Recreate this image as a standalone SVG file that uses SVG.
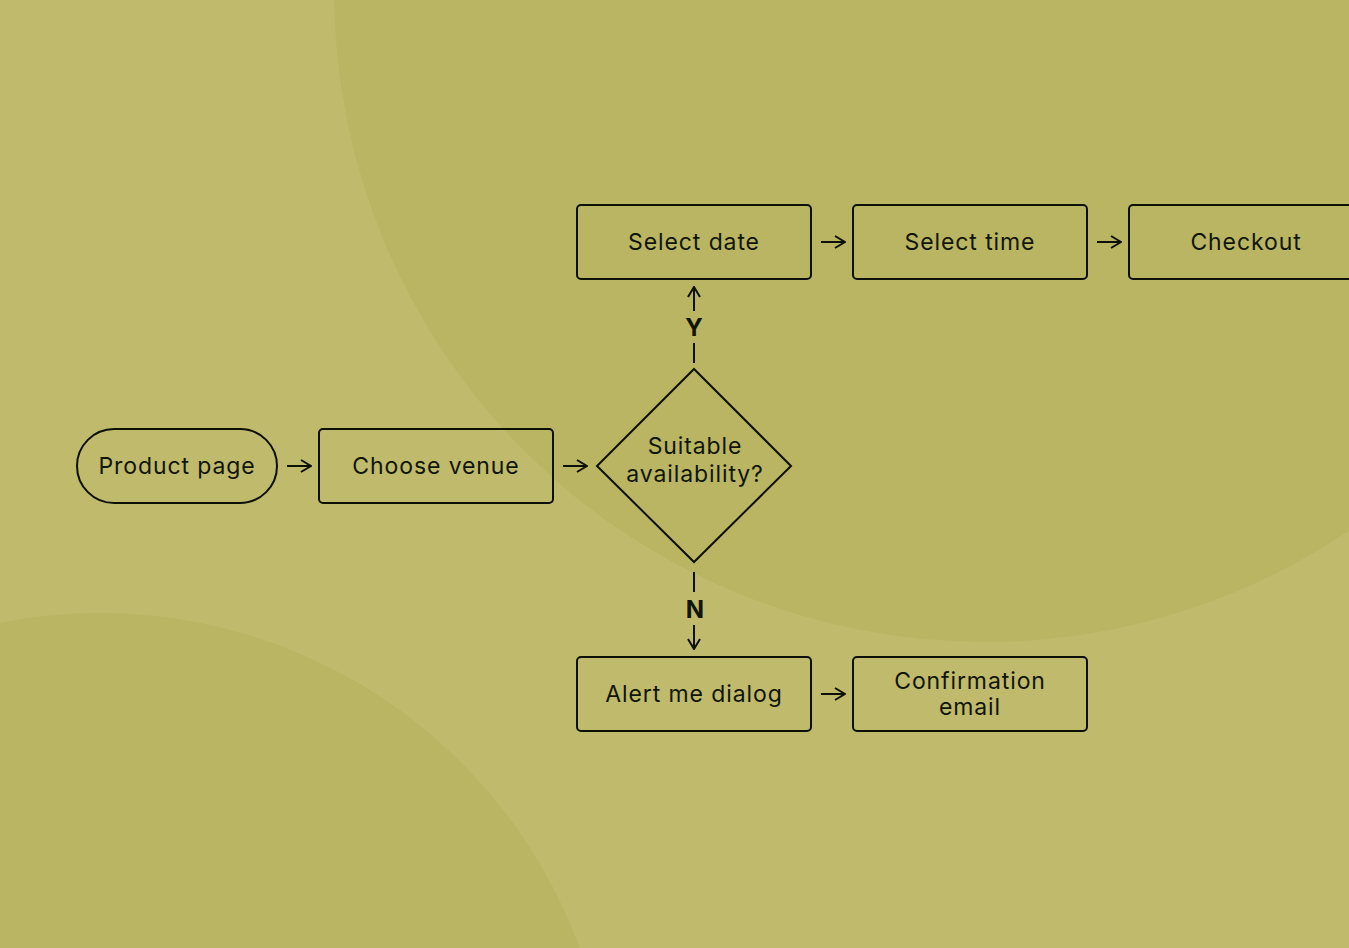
<svg xmlns="http://www.w3.org/2000/svg" width="1349" height="948" viewBox="0 0 1349 948">
<defs>
<style>
.box{fill:none;stroke:#0d1005;stroke-width:2}
.lbl{font-family:Inter,"Open Sans",sans-serif;font-size:23px;letter-spacing:0.9px;fill:#111507;text-anchor:middle;dominant-baseline:central}
.yn{font-family:Inter,"Liberation Sans",sans-serif;font-size:24px;font-weight:700;fill:#111507;text-anchor:middle;dominant-baseline:central}
.con{fill:none;stroke:#0d1005;stroke-width:2}
</style>
<marker id="ah" viewBox="0 0 12 14" refX="11" refY="7" markerWidth="12" markerHeight="14" markerUnits="userSpaceOnUse" orient="auto">
<path d="M1,1 L11,7 L1,13" fill="none" stroke="#0d1005" stroke-width="2"/>
</marker>
</defs>
<rect width="1349" height="948" fill="#C0BA6C"/>
<circle cx="985" cy="-9" r="651" fill="#B9B563"/>
<circle cx="100" cy="1124" r="511" fill="#B9B563"/>
<g id="connectors">
<line class="con" x1="287" y1="466" x2="311" y2="466" marker-end="url(#ah)"/>
<line class="con" x1="563" y1="466" x2="587" y2="466" marker-end="url(#ah)"/>
<line class="con" x1="821" y1="242" x2="845" y2="242" marker-end="url(#ah)"/>
<line class="con" x1="1097" y1="242" x2="1121" y2="242" marker-end="url(#ah)"/>
<line class="con" x1="821" y1="694" x2="845" y2="694" marker-end="url(#ah)"/>
<line class="con" x1="694" y1="363" x2="694" y2="343"/>
<line class="con" x1="694" y1="311" x2="694" y2="287" marker-end="url(#ah)"/>
<text class="yn" x="694" y="327">Y</text>
<line class="con" x1="694" y1="572" x2="694" y2="592"/>
<line class="con" x1="694" y1="625" x2="694" y2="649" marker-end="url(#ah)"/>
<text class="yn" x="695" y="609">N</text>
</g>
<g id="product-page">
<rect class="box" x="77" y="429" width="200" height="74" rx="37"/>
<text class="lbl" x="177" y="466">Product page</text>
</g>
<g id="choose-venue">
<rect class="box" x="319" y="429" width="234" height="74" rx="4"/>
<text class="lbl" x="436" y="466">Choose venue</text>
</g>
<g id="suitable-availability">
<path class="box" d="M694,369 L791,466 L694,562 L597,466 Z" stroke-width="1.8"/>
<text class="lbl" x="695" y="446">Suitable</text>
<text class="lbl" x="695" y="474">availability?</text>
</g>
<g id="select-date">
<rect class="box" x="577" y="205" width="234" height="74" rx="4"/>
<text class="lbl" x="694" y="242">Select date</text>
</g>
<g id="select-time">
<rect class="box" x="853" y="205" width="234" height="74" rx="4"/>
<text class="lbl" x="970" y="242">Select time</text>
</g>
<g id="checkout">
<rect class="box" x="1129" y="205" width="234" height="74" rx="4"/>
<text class="lbl" x="1246" y="242">Checkout</text>
</g>
<g id="alert-me-dialog">
<rect class="box" x="577" y="657" width="234" height="74" rx="4"/>
<text class="lbl" x="694" y="694">Alert me dialog</text>
</g>
<g id="confirmation-email">
<rect class="box" x="853" y="657" width="234" height="74" rx="4"/>
<text class="lbl" x="970" y="681">Confirmation</text>
<text class="lbl" x="970" y="707">email</text>
</g>
</svg>
